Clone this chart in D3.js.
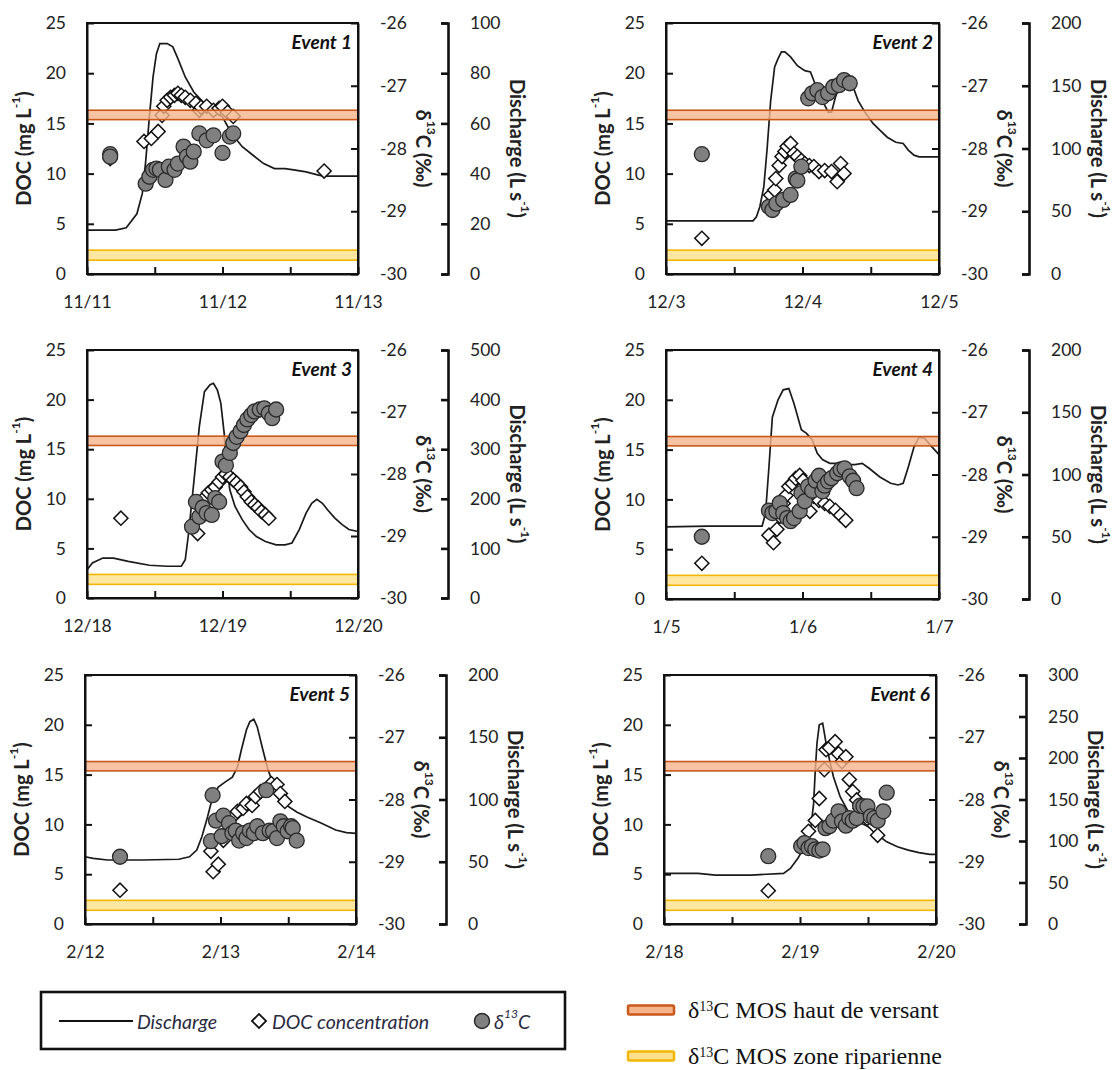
<!DOCTYPE html>
<html><head><meta charset="utf-8">
<script src="https://cdn.jsdelivr.net/npm/d3@7"></script>
<style>body{margin:0;background:#fff}</style>
</head><body><svg id="c" width="1115" height="1070"></svg>
<script>
// ---------------- DATA ----------------
const eventNames = ["Event 1","Event 2","Event 3","Event 4","Event 5","Event 6"];
const dateLabels = [["11/11","11/12","11/13"],["12/3","12/4","12/5"],["12/18","12/19","12/20"],["1/5","1/6","1/7"],["2/12","2/13","2/14"],["2/18","2/19","2/20"]];
const hourTicks = [0,12,24,36,48];
const docTicks = [0,5,10,15,20,25];
const d13Ticks = [-30,-29,-28,-27,-26];
const dischargeTicks = [[0,20,40,60,80,100],[0,50,100,150,200],[0,100,200,300,400,500],[0,50,100,150,200],[0,50,100,150,200],[0,50,100,150,200,250,300]];
const bandHaut = [-27.54,-27.39];   // δ13C MOS haut de versant
const bandRip = [-29.78,-29.62];    // δ13C MOS zone riparienne

// [hour, discharge L/s]
const e1Discharge = [[0,17.5],[5.05,17.5],[6.95,18.4],[8.84,24],[9.79,32],[10.4,45],[11.05,62.6],[11.7,78.5],[12.3,87.8],[12.9,91.8],[14.2,91.8],[15.2,90.5],[16.1,85.8],[17.4,78.5],[18.9,72.5],[20.8,68],[22.4,65],[24,62.6],[25.6,56],[27.5,50.7],[29.4,47.3],[31.3,44],[33.2,42],[35.1,42],[36.9,41.4],[38.8,40.7],[41,39.4],[42,39],[48,39]];
const e2Discharge = [[0,42.4],[15.3,42.4],[15.9,45.6],[16.5,53.6],[17.2,69.5],[17.8,101],[18.4,138],[19.1,165],[19.7,171.6],[20.3,177],[20.9,177],[21.9,173],[23.1,166],[24.4,162],[25.4,161],[26,154],[26.9,144],[27.9,134.5],[28.5,129],[29.1,129],[29.8,141],[30.7,152],[32,154],[32.9,149],[33.8,138],[35.1,128],[36.4,120],[37.6,114.6],[38.9,109],[40.4,105],[41.7,104],[42.6,98.7],[43.6,94.7],[44.5,93.4],[48,93.4]];
const e3Discharge = [[0,57],[0.95,70.5],[2.8,80.5],[4.7,80.5],[7.3,74],[11.05,66],[14.2,64],[16.7,64],[17.4,77],[18,131],[18.9,231],[19.9,346],[20.8,416],[21.8,430],[22.4,433],[23.1,419],[23.7,393],[24.3,332],[24.6,278],[25.3,218],[26.2,185],[27.5,158],[28.7,138],[30,124],[31.6,114],[33.5,107],[35.1,107],[36.3,111],[37.6,138],[38.8,171],[39.8,191],[40.7,199],[41.7,191],[42.6,178],[43.9,161],[45.2,148],[46.4,138],[48,134]];
const e4Discharge = [[0,58],[7.4,58.6],[16.9,58.6],[17.5,68.8],[18.1,106],[18.7,146],[19.7,160],[20.6,168],[21.6,169],[22.5,157],[23.8,136],[24.7,133],[25.7,128],[26.6,117],[27.5,112],[28.8,109],[30.1,109],[31.3,108],[33.2,108],[34.5,109],[35.7,105],[37.6,98],[39.5,93],[40.8,91.6],[41.7,93],[42.6,106],[43.6,122],[44.5,130],[45.5,129],[46.4,124],[48,116]];
const e5Discharge = [[0,54],[1.45,52.7],[4,51.4],[10.3,51.4],[16.6,52],[18.5,54],[19.8,59.4],[20.7,70],[21.7,86],[22.6,102],[23.6,110],[24.8,114],[26.1,118],[27,126],[27.7,140],[28.6,156],[29.2,162.5],[29.9,164.4],[30.5,158.5],[31.5,140],[32.4,124],[33.3,113],[34.3,103.6],[35.6,95.6],[37.5,90],[39.3,86],[41.9,81],[44.4,75.5],[46.3,73.4],[48,72.8]];
const e6Discharge = [[0,61],[6,61],[9.1,59],[15.4,59],[21.1,61],[22.3,67],[23.6,79],[24.8,93],[25.8,109],[26.4,145],[26.7,185.5],[27,218],[27.4,240],[28,242],[28.6,218],[29.2,198],[29.9,177.5],[31.1,153],[32.4,137],[33.7,127],[34.9,121],[36.2,117],[37.4,109],[39.3,99],[41.2,93],[43.1,89],[45,86],[46.9,84],[48,84]];

// [hour, DOC mg/L]
const e1Doc = [[4.1,11.5],[10.1,13.2],[11.4,13.5],[12.6,14.2],[13.3,15.8],[13.6,16.7],[14.2,17.3],[14.8,17.6],[15.5,17.8],[16.1,18.0],[16.7,17.8],[17.4,17.6],[18.3,17.3],[19.3,17.0],[19.9,16.3],[20.2,16.6],[21.2,16.7],[22.4,16.3],[23.4,16.5],[24,16.7],[24.9,16.1],[25.9,15.7],[42,10.25]];
const e2Doc = [[6.3,3.55],[18.4,7.86],[19.1,8.36],[19.3,9.5],[19.9,10.8],[20.4,11.7],[20.9,12.2],[21.3,12.7],[21.9,13.0],[22.5,12.0],[23.1,11.7],[23.8,11.3],[24.4,11.0],[25.2,10.8],[26,10.7],[26.9,10.2],[27.9,10.3],[29.1,10.2],[30.1,9.2],[30.7,11.0],[31.3,10.0]];
const e3Doc = [[6,8.05],[19.6,6.5],[19.9,8.2],[20.2,9.2],[20.8,10.1],[21.5,10.6],[22.1,10.9],[22.7,11.2],[23.4,11.7],[24,12.2],[24.6,12.5],[25.3,12.2],[25.9,11.9],[26.5,11.6],[27.2,11.2],[27.8,10.7],[28.4,10.2],[29.1,9.7],[29.7,9.4],[30.3,9.1],[30.9,8.7],[31.6,8.4],[32.2,8.05]];
const e4Doc = [[6.3,3.58],[18.1,6.4],[18.9,5.65],[19.5,7.0],[20,8.3],[20.6,9.6],[21.1,10.4],[21.6,11.3],[22.2,11.6],[22.8,12.1],[23.5,12.4],[24.1,11.9],[24.7,10.9],[25.3,8.8],[26,10.3],[26.9,9.9],[27.9,9.6],[28.8,9.3],[29.8,8.9],[30.7,8.4],[31.6,7.9]];
const e5Doc = [[6.2,3.4],[22.3,7.3],[22.7,5.25],[23.6,6.0],[24.5,8.4],[25.5,10.1],[26.4,10.9],[27,11.3],[28,11.6],[28.6,12.1],[29.6,11.9],[30.2,12.8],[31.1,13.3],[32.1,13.5],[33,14.1],[34,14.0],[34.6,13.1],[35.4,12.3]];
const e6Doc = [[18.4,3.35],[25.5,9.3],[26.7,10.4],[27.4,12.6],[28.3,15.5],[28.6,17.5],[29.2,17.7],[30.2,18.3],[30.8,17.1],[31.4,16.3],[32.1,16.8],[32.7,14.5],[33.3,13.3],[34,12.45],[34.6,11.6],[35.2,10.9],[36.2,10.4],[37.1,9.9],[37.7,8.9]];

// [hour, δ13C ‰]
const e1D13 = [[4.1,-28.09],[4.1,-28.13],[10.4,-28.56],[11.05,-28.45],[11.7,-28.34],[12.3,-28.32],[12.9,-28.34],[13.9,-28.50],[14.5,-28.29],[15.5,-28.34],[16.1,-28.24],[17.1,-27.97],[17.7,-28.13],[18.3,-28.21],[18.9,-28.05],[19.9,-27.76],[21.2,-27.87],[22.4,-27.79],[24,-28.07],[25.3,-27.81],[25.9,-27.76]];
const e2D13 = [[6.3,-28.09],[18.1,-28.93],[18.7,-28.98],[19.4,-28.88],[20.6,-28.82],[21.9,-28.74],[22.8,-28.48],[23.1,-28.51],[23.8,-28.29],[25,-27.2],[25.7,-27.12],[26.6,-27.07],[27.5,-27.18],[28.5,-27.12],[29.4,-27.02],[30.4,-26.99],[31.3,-26.91],[32.3,-26.96]];
const e3D13 = [[18.6,-28.85],[19.3,-28.45],[19.9,-28.69],[20.5,-28.54],[21.2,-28.63],[22.1,-28.66],[22.7,-28.39],[23.4,-28.45],[24,-27.8],[24.6,-27.86],[25.3,-27.66],[25.9,-27.5],[26.5,-27.4],[27.2,-27.31],[27.8,-27.21],[28.4,-27.12],[29.1,-27.05],[29.7,-26.99],[30.6,-26.96],[31.4,-26.94],[32.2,-27.02],[32.8,-27.1],[33.5,-26.96]];
const e4D13 = [[6.3,-29.0],[18.1,-28.58],[18.7,-28.62],[19.4,-28.59],[20,-28.46],[20.6,-28.62],[21.3,-28.70],[21.9,-28.75],[22.5,-28.70],[23.5,-28.59],[23.8,-28.30],[24.4,-28.43],[25,-28.19],[25.7,-28.26],[26.3,-28.10],[26.9,-28.02],[27.5,-28.27],[27.9,-28.18],[28.5,-28.11],[29.1,-28.06],[30.1,-27.98],[30.7,-27.92],[31.4,-27.90],[32.3,-28.03],[32.9,-28.10],[33.5,-28.22]];
const e5D13 = [[6.2,-28.92],[22.3,-28.67],[22.6,-27.93],[23.2,-28.34],[24.2,-28.59],[24.5,-28.26],[25.5,-28.38],[26.1,-28.54],[26.7,-28.50],[27.3,-28.66],[28,-28.54],[28.6,-28.62],[29.2,-28.50],[29.9,-28.54],[30.5,-28.43],[31.5,-28.54],[32.1,-27.85],[32.7,-28.50],[33.3,-28.51],[34,-28.62],[34.6,-28.35],[35.2,-28.43],[35.9,-28.51],[36.5,-28.43],[36.8,-28.46],[37.5,-28.66]];
const e6D13 = [[18.4,-28.91],[24.2,-28.75],[24.8,-28.70],[25.5,-28.78],[26.1,-28.75],[26.7,-28.80],[27.4,-28.82],[28,-28.80],[28.5,-28.46],[29.2,-28.43],[29.9,-28.34],[30.8,-28.19],[31.4,-28.35],[32.1,-28.42],[32.7,-28.30],[33.3,-28.34],[34,-28.30],[34.6,-28.10],[35.2,-28.11],[35.9,-28.11],[36.5,-28.27],[37.1,-28.30],[37.7,-28.34],[38.7,-28.19],[39.3,-27.89]];

// ---------------- DRAW ----------------
const events = [
  {q:e1Discharge, doc:e1Doc, d13:e1D13},
  {q:e2Discharge, doc:e2Doc, d13:e2D13},
  {q:e3Discharge, doc:e3Doc, d13:e3D13},
  {q:e4Discharge, doc:e4Doc, d13:e4D13},
  {q:e5Discharge, doc:e5Doc, d13:e5D13},
  {q:e6Discharge, doc:e6Doc, d13:e6D13}
];
const layouts = [
  {L:87,R:358,T:23,B:274},{L:666,R:939,T:23,B:274},
  {L:87,R:358,T:350,B:598},{L:666,R:939,T:350,B:599},
  {L:85,R:356,T:675,B:924},{L:664,R:936,T:675,B:924}
];
const FONT = "Lato, 'Open Sans', sans-serif";
const TXT = "#222";
const ORANGE_FILL = "#f5b48c", ORANGE_STROKE = "#c9581a";
const YELLOW_FILL = "#ffe08a", YELLOW_STROKE = "#f2b705";
const svg = d3.select("#c");
const diamondPath = d3.symbol(d3.symbolSquare, 100)();
const plainNum = d => String(d);

function styleAxis(g, sw) {
  g.attr("font-family", FONT).attr("font-size", 17.5);
  g.selectAll("text").attr("fill", TXT);
  g.selectAll("line").attr("stroke", "#111").attr("stroke-width", sw);
  g.select(".domain").attr("stroke", "#111").attr("stroke-width", sw);
}

events.forEach((ev, i) => {
  const {L, R, T, B} = layouts[i];
  const qt = dischargeTicks[i];
  const x = d3.scaleLinear().domain([0, 48]).range([L, R]);
  const yDoc = d3.scaleLinear().domain([0, 25]).range([B, T]);
  const yD = d3.scaleLinear().domain([-30, -26]).range([B, T]);
  const yQ = d3.scaleLinear().domain([0, qt[qt.length - 1]]).range([B, T]);
  const g = svg.append("g");

  // discharge line
  g.append("path").datum(ev.q)
    .attr("d", d3.line().x(d => x(d[0])).y(d => yQ(d[1])))
    .attr("fill", "none").attr("stroke", "#1a1a1a").attr("stroke-width", 1.7);

  // DOC diamonds
  g.selectAll(".dm").data(ev.doc).join("path").attr("class", "dm")
    .attr("d", diamondPath)
    .attr("transform", d => `translate(${x(d[0])},${yDoc(d[1])}) rotate(45)`)
    .attr("fill", "#fff").attr("stroke", "#111").attr("stroke-width", 1.5);

  // MOS bands
  [[bandHaut, ORANGE_FILL, ORANGE_STROKE], [bandRip, YELLOW_FILL, YELLOW_STROKE]].forEach(([b, f, s]) => {
    g.append("rect").attr("x", x(0)).attr("width", x(48) - x(0))
      .attr("y", yD(b[1])).attr("height", yD(b[0]) - yD(b[1]))
      .attr("fill", f).attr("fill-opacity", 0.8).attr("stroke", s).attr("stroke-width", 1.6);
  });

  // δ13C circles
  g.selectAll(".ci").data(ev.d13).join("circle").attr("class", "ci")
    .attr("cx", d => x(d[0])).attr("cy", d => yD(d[1])).attr("r", 7.5)
    .attr("fill", "#808080").attr("stroke", "#2a2a2a").attr("stroke-width", 1.3);

  // frame
  g.append("rect").attr("x", L).attr("y", T).attr("width", R - L).attr("height", B - T)
    .attr("fill", "none").attr("stroke", "#111").attr("stroke-width", 2);

  // left DOC axis
  const ax1 = g.append("g").attr("transform", `translate(${L},0)`)
    .call(d3.axisLeft(yDoc).tickValues(docTicks).tickFormat(plainNum).tickSize(-7).tickSizeOuter(0).tickPadding(21));
  styleAxis(ax1, 2);
  // right δ13C axis
  const ax2 = g.append("g").attr("transform", `translate(${R},0)`)
    .call(d3.axisRight(yD).tickValues(d13Ticks).tickFormat(plainNum).tickSize(-7).tickSizeOuter(0).tickPadding(22));
  styleAxis(ax2, 2);
  // bottom time axis
  const ax3 = g.append("g").attr("transform", `translate(0,${B})`)
    .call(d3.axisBottom(x).tickValues(hourTicks).tickSize(-7).tickSizeOuter(0).tickPadding(22)
      .tickFormat(d => d % 24 === 0 ? dateLabels[i][d / 24] : ""));
  styleAxis(ax3, 2);
  // separate discharge axis
  const QX = R + 90;
  const ax4 = g.append("g").attr("transform", `translate(${QX},0)`)
    .call(d3.axisRight(yQ).tickValues(qt).tickFormat(plainNum).tickSize(-7).tickSizeOuter(-7).tickPadding(22));
  styleAxis(ax4, 2.6);

  // titles
  const cy = (T + B) / 2;
  const t1 = g.append("text").attr("transform", `translate(${L - 64},${cy}) rotate(-90)`)
    .attr("text-anchor", "middle").attr("dominant-baseline", "central")
    .attr("font-family", FONT).attr("font-weight", 700).attr("font-size", 20).attr("fill", TXT);
  t1.append("tspan").text("DOC (mg L");
  t1.append("tspan").attr("baseline-shift", "super").attr("font-size", 12).text("-1");
  t1.append("tspan").text(")");

  const t2 = g.append("text").attr("transform", `translate(${R + 66},${cy}) rotate(90)`)
    .attr("text-anchor", "middle").attr("dominant-baseline", "central")
    .attr("font-family", FONT).attr("font-weight", 700).attr("font-size", 20).attr("fill", TXT);
  t2.append("tspan").text("δ");
  t2.append("tspan").attr("baseline-shift", "super").attr("font-size", 12).text("13");
  t2.append("tspan").text("C (‰)");

  const t3 = g.append("text").attr("transform", `translate(${QX + 70},${cy}) rotate(90)`)
    .attr("text-anchor", "middle").attr("dominant-baseline", "central")
    .attr("font-family", FONT).attr("font-weight", 700).attr("font-size", 20).attr("fill", TXT);
  t3.append("tspan").text("Discharge (L s");
  t3.append("tspan").attr("baseline-shift", "super").attr("font-size", 12).text("-1");
  t3.append("tspan").text(")");

  g.append("text").attr("x", R - 6).attr("y", T + 26).attr("text-anchor", "end")
    .attr("font-family", FONT).attr("font-weight", 700).attr("font-style", "italic")
    .attr("font-size", 19).attr("fill", "#111").text(eventNames[i]);
});

// ---------------- LEGENDS ----------------
const lg = svg.append("g");
lg.append("rect").attr("x", 41).attr("y", 992).attr("width", 524).attr("height", 57)
  .attr("fill", "#fff").attr("stroke", "#111").attr("stroke-width", 2.6);
const LY = 1021;
lg.append("line").attr("x1", 59).attr("x2", 133).attr("y1", LY).attr("y2", LY)
  .attr("stroke", "#111").attr("stroke-width", 2.2);
const legTxt = (x0, t) => lg.append("text").attr("x", x0).attr("y", LY).attr("dominant-baseline", "central")
  .attr("font-family", FONT).attr("font-style", "italic").attr("font-size", 19.5).attr("fill", "#2a2a40").text(t);
legTxt(137, "Discharge");
lg.append("path").attr("d", diamondPath).attr("transform", `translate(259,${LY}) rotate(45)`)
  .attr("fill", "#fff").attr("stroke", "#111").attr("stroke-width", 1.8);
legTxt(272, "DOC concentration");
lg.append("circle").attr("cx", 482).attr("cy", LY).attr("r", 7.5)
  .attr("fill", "#808080").attr("stroke", "#2a2a2a").attr("stroke-width", 1.5);
const dt = legTxt(494, "δ");
dt.append("tspan").attr("baseline-shift", "super").attr("font-size", 12).text("13");
dt.append("tspan").text("C");

const rl = svg.append("g");
[[1010, ORANGE_FILL, ORANGE_STROKE, "MOS haut de versant"], [1056, YELLOW_FILL, YELLOW_STROKE, "MOS zone riparienne"]].forEach(([yy, f, s, t]) => {
  rl.append("rect").attr("x", 628).attr("y", yy - 4.5).attr("width", 46).attr("height", 9).attr("rx", 1.5)
    .attr("fill", f).attr("stroke", s).attr("stroke-width", 2.5);
  const tx = rl.append("text").attr("x", 688).attr("y", yy + 8)
    .attr("font-family", "'Liberation Serif', 'Times New Roman', serif").attr("font-size", 24).attr("fill", "#111");
  tx.append("tspan").text("δ");
  tx.append("tspan").attr("baseline-shift", "super").attr("font-size", 14).text("13");
  tx.append("tspan").text("C " + t);
});
</script>
</body></html>
